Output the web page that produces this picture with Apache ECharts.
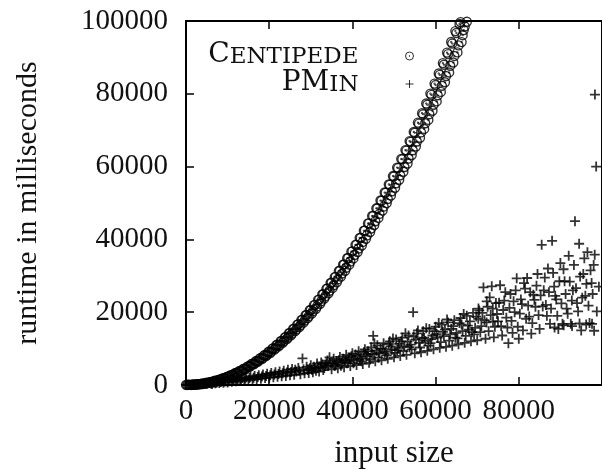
<!DOCTYPE html>
<html>
<head>
<meta charset="utf-8">
<script src="https://cdn.jsdelivr.net/npm/echarts@6/dist/echarts.min.js"></script>
<style>
  html, body { margin: 0; padding: 0; background: #fff; }
  #chart { width: 602px; height: 474px; }
</style>
</head>
<body>
<div id="chart"></div>
<script>
// Runtime measurements: [input size, runtime in ms]
const centipedePoints = [
  [0,40],[500,60],[1000,30],[1500,90],[2000,120],[2500,110],[3000,230],[3500,250],[4000,390],[4500,420],
  [5000,610],[5500,640],[6000,860],[6500,900],[7000,1150],[7500,1210],[8000,1490],[8500,1560],[9000,1880],[9500,1950],
  [10000,2310],[10500,2390],[11000,2780],[11500,2870],[12000,3320],[12500,3400],[13000,3880],[13500,3950],[14000,4480],[14500,4560],
  [15000,5150],[15500,5230],[16000,5860],[16500,5920],[17000,6600],[17500,6700],[18000,7400],[18500,7450],[19000,8240],[19500,8300],
  [20000,9150],[20500,9150],[21000,10080],[21500,10050],[22000,11060],[22500,11000],[23000,12100],[23500,12000],[24000,13200],[24500,13050],
  [25000,14300],[25500,14150],[26000,15500],[26500,15250],[27000,16700],[27500,16400],[28000,17950],[28500,17700],[29000,19250],[29500,18900],
  [30000,20600],[30500,20250],[31000,22000],[31500,21600],[32000,23450],[32500,23000],[33000,24950],[33500,24400],[34000,26500],[34500,25900],
  [35000,28100],[35500,27400],[36000,29700],[36500,29000],[37000,31400],[37500,30600],[38000,33100],[38500,32200],[39000,34900],[39500,33900],
  [40000,36700],[40500,35700],[41000,38500],[41500,37500],[42000,40400],[42500,39300],[43000,42400],[43500,41100],[44000,44400],[44500,43000],
  [45000,46400],[45500,45000],[46000,48500],[46500,47000],[47000,50600],[47500,49000],[48000,52800],[48500,51100],[49000,55000],[49500,53200],
  [50000,57300],[50500,55400],[51000,59600],[51500,57600],[52000,62000],[52500,59900],[53000,64400],[53500,62200],[54000,66800],[54500,64500],
  [55000,69300],[55500,66900],[56000,71800],[56500,69400],[57000,74400],[57500,71900],[58000,77000],[58500,74400],[59000,79700],[59500,77000],
  [60000,82400],[60500,79600],[61000,85200],[61500,82200],[62000,88000],[62500,84900],[63000,90900],[63500,87700],[64000,93800],[64500,90400],
  [65000,96700],[65500,93300],[66000,99700],[66500,96100],[67000,98500],[67500,99800],
  [250,20],[750,40],[1250,20],[1750,100],[2250,90],[2750,200],[3250,210],[3750,340],[4250,380],[4750,540],
  [5250,580],[5750,790],[6250,830],[6750,1080],[7250,1120],[7750,1420],[8250,1460],[8750,1800],[9250,1840],[9750,2230],
  [10250,2260],[10750,2700],[11250,2720],[11750,3220],[12250,3230],[12750,3780],[13250,3780],[13750,4390],[14250,4370],[14750,5050],
  [15250,5000],[15750,5760],[16250,5670],[16750,6510],[17250,6390],[17750,7310],[18250,7150],[18750,8150],[19250,7960],[19750,9050],
  [20250,8800],[20750,9990],[21250,9700],[21750,10980],[22250,10630],[22750,12010],[23250,11600],[23750,13090],[24250,12620],[24750,14210],
  [25250,13680],[25750,15380],[26250,14790],[26750,16600],[27250,15930],[27750,17860],[28250,17130],[28750,19170],[29250,18360],[29750,20530],
  [30250,19640],[30750,21930],[31250,20960],[31750,23380],[32250,22320],[32750,24880],[33250,23730],[33750,26420],[34250,25180],[34750,28010],
  [35250,26670],[35750,29640],[36250,28200],[36750,31320],[37250,29780],[37750,33050],[38250,31400],[38750,34820],[39250,33060],[39750,36640],
  [40250,34770],[40750,38510],[41250,36520],[41750,40420],[42250,38310],[42750,42380],[43250,40150],[43750,44390],[44250,42020],[44750,46440],
  [45250,43940],[45750,48540],[46250,45910],[46750,50690],[47250,47910],[47750,52880],[48250,49970],[48750,55120],[49250,52060],[49750,57400],
  [50250,54190],[50750,59730],[51250,56370],[51750,62110],[52250,58590],[52750,64530],[53250,60860],[53750,67000],[54250,63170],[54750,69520],
  [55250,65510],[55750,72080],[56250,67910],[56750,74690],[57250,70350],[57750,77350],[58250,72830],[58750,80050],[59250,75350],[59750,82800],
  [60250,77910],[60750,85590],[61250,80520],[61750,88430],[62250,83170],[62750,91320],[63250,85870],[63750,94250],[64250,88600],[64750,97230],
  [65250,91380],[65750,99200],[66250,94200],[66750,97500]
];

const pminPoints = [
  [0,30],[500,80],[1000,50],[1500,150],[2000,120],[2500,260],[3000,180],[3500,330],[4000,240],[4500,410],
  [5000,300],[5500,520],[6000,380],[6500,640],[7000,450],[7500,760],[8000,560],[8500,900],[9000,650],[9500,1050],
  [10000,720],[10500,1250],[11000,880],[11500,1450],[12000,1020],[12500,1700],[13000,1100],[13500,1900],[14000,1250],[14500,2100],
  [15000,1400],[15500,2300],[16000,1500],[16500,2450],[17000,1650],[17500,2700],[18000,1750],[18500,2900],[19000,1900],[19500,3100],
  [20000,2000],[20500,3300],[21000,2100],[21500,3500],[22000,2250],[22500,3700],[23000,2400],[23500,3900],[24000,2500],[24500,4200],
  [25000,2650],[25500,4400],[26000,2800],[26500,3700],[27000,4700],[27500,2950],[28000,7300],[28500,3200],[29000,5000],[29500,3300],
  [30000,5400],[30500,3500],[31000,4500],[31500,5900],[32000,3700],[32500,6200],[33000,4100],[33500,5300],[34000,6700],[34500,7600],
  [35000,4300],[35500,7200],[36000,5600],[36500,4600],[37000,7700],[37500,6200],[38000,4900],[38500,8300],[39000,6600],[39500,5200],
  [40000,8700],[40500,7000],[41000,5500],[41500,9300],[42000,7400],[42500,5800],[43000,9800],[43500,7900],[44000,6100],[44500,10300],
  [45000,13500],[45200,8400],[45500,6500],[46000,10900],[46500,8800],[47000,6800],[47500,11500],[48000,9200],[48500,7200],[49000,12000],
  [49500,9700],[50000,7600],[50500,12500],[51000,10200],[51500,8000],[52000,13000],[52500,10700],[53000,8300],[53500,13600],[54000,11100],
  [54600,20000],[55000,8700],[55500,14200],[56000,11600],[56500,9000],[57000,14800],[57500,12100],[58000,9400],[58500,15400],[59000,12600],
  [59500,9800],[60000,16000],[60500,13000],[61000,10200],[61500,16600],[62000,13400],[62500,10500],[63000,17200],[63500,13900],[64000,10800],
  [64500,17800],[65000,14300],[65500,11200],[66000,18400],[66500,14800],[67000,11600],[67500,19000],[68000,15200],[68500,12000],[69000,19800],
  [69500,15700],[70000,12300],[70500,20500],[71000,16200],[71500,26800],[72000,12700],[72500,21500],[73000,24100],[73500,27100],[74000,13100],
  [74500,22500],[75000,17500],[75500,27400],[76000,13600],[76500,23200],[77000,18500],[77500,11500],[78000,25000],[78500,14300],[79000,20000],
  [79500,29300],[80000,12700],[80500,23500],[81000,15000],[81500,26500],[82000,29400],[82500,18800],[83000,14100],[83500,24800],[84000,21500],
  [84500,30500],[85000,15400],[85500,38500],[86000,26000],[86500,22000],[87000,32000],[87500,16800],[88000,39600],[88500,27000],[89000,23500],
  [89500,15400],[90000,33500],[90500,16800],[91000,28500],[91500,21000],[92000,35500],[92500,16800],[93000,26000],[93500,45000],[94000,22500],
  [94500,38800],[95000,15000],[95500,30500],[96000,24500],[96500,36500],[97000,17000],[97500,28000],[98000,33000],[98300,79800],[98600,60000],
  [30250,4200],[31250,3900],[32250,5000],[33250,4700],[34250,5200],[35250,6000],[36250,6500],[37250,5300],[38250,6900],[39250,7500],
  [40250,6000],[41250,8000],[42250,6500],[43250,8500],[44250,7000],[45750,9400],[46250,7500],[47250,10000],[48250,8200],[49250,10600],
  [50250,8800],[51250,11300],[52250,9300],[53250,11900],[54250,9800],[55250,12500],[56250,10300],[57250,13000],[58250,10800],[59250,13600],
  [60250,14000],[61250,11800],[62250,15200],[63250,12200],[64250,16200],[65250,12800],[66250,16600],[67250,13500],[68250,17500],[69250,13900],
  [70250,18200],[70750,14500],[71250,19800],[72250,17200],[72750,14800],[73250,19200],[73750,21000],[74250,16000],[74750,19500],[75250,22600],
  [75750,16200],[76250,20600],[76750,25500],[77250,15800],[77750,21200],[78250,17600],[78750,23000],[79250,26000],[79750,16000],[80250,19600],
  [80750,22200],[81250,28000],[81750,18200],[82250,21800],[82750,25500],[83250,17000],[83750,23400],[84250,27300],[84750,19200],[85250,24600],
  [85750,21600],[86250,29500],[86750,19000],[87250,25500],[87750,21000],[88250,30800],[88750,24500],[89250,19000],[89750,28500],[90250,22400],
  [90750,31800],[91250,25000],[91750,19600],[92250,28400],[92750,23200],[93250,33000],[93750,26600],[94250,20200],[94750,29800],[95250,24000],
  [95750,34800],[96250,27800],[96750,21800],[97250,31500],[97750,25000],[98250,35800],[98750,20200],[99250,27000],
  [88600,15800],[90800,16400],[92800,16200],[94600,16900],[96200,16600],[98100,14900],[97600,16800],
  [5250,450],[6250,300],[7250,620],[8250,800],[9250,980],[10250,1000],[11250,1150],[12250,1350],[13250,1500],[14250,1750],
  [15250,1900],[16250,2000],[17250,2200],[18250,2350],[19250,2500],[20250,2700],[21250,2900],[22250,3000],[23250,3200],[24250,3400],
  [25250,3600],[26250,4200],[27250,3900],[28250,4300],[29250,4100],[29750,4600],[30750,5000],[31750,4700],[32750,5600],[33750,6000],
  [34750,5900],[35750,5200],[36750,6800],[37750,7200],[38750,6000],[39750,7900],[40750,8400],[41750,7000],[42750,9000],[43750,9300],
  [44750,8600],[45300,11500],[46750,9900],[47750,8700],[48750,11200],[49750,12800],[50750,9600],[51750,12000],[52750,14200],[53750,10400],
  [54750,13300],[55750,15000],[56750,12800],[57750,15600],[58750,11500],[59750,14800],[60750,17000],[61750,14600],[62750,18000],[63750,15400],
  [64750,13000],[65750,17000],[66750,19500],[67750,16300],[68750,14500],[69750,18800],[70300,21000],[71750,17800],[72300,23000],[73800,17500]
];

const xTicks = [0, 20000, 40000, 60000, 80000, 100000];
const yTicks = [0, 20000, 40000, 60000, 80000, 100000];

const SERIF = '"Liberation Serif", "DejaVu Serif", serif';
const LEGEND_FONT = '"DejaVu Serif", "Liberation Serif", serif';

// ring with a centre dot, and a plus sign
const ringDot = 'path://M5,0A5,5,0,1,1,5,10A5,5,0,1,1,5,0ZM5,4.55A0.45,0.45,0,1,1,5,5.45A0.45,0.45,0,1,1,5,4.55Z';
const plus = 'path://M0,5L10,5M5,0L5,10';

const chart = echarts.init(document.getElementById('chart'), null, { renderer: 'canvas' });

const axisLineStyle = { color: '#000', width: 2 };
const tickStyle = { color: '#000', width: 1.5 };

chart.setOption({
  animation: false,
  backgroundColor: '#fff',
  textStyle: { fontFamily: SERIF, color: '#111' },
  grid: {
    left: 186, right: -9, top: 21, bottom: 84.5,
    show: true, borderColor: '#000', borderWidth: 2, backgroundColor: 'transparent'
  },
  legend: {
    orient: 'vertical',
    align: 'right',
    right: 183,
    top: 36,
    itemWidth: 92,
    itemHeight: 8,
    itemGap: 0,
    itemStyle: { color: 'rgba(0,0,0,0)', borderColor: '#000', borderWidth: 1 },
    selectedMode: false,
    data: ['Centipede', 'PMin'],
    formatter: function (name) {
      if (name === 'Centipede') return '{big|C}{small|ENTIPEDE}';
      return '{big|PM}{small|IN}';
    },
    textStyle: {
      color: '#111',
      rich: {
        big: { fontFamily: LEGEND_FONT, fontSize: 28, lineHeight: 26, verticalAlign: 'bottom', color: '#111' },
        small: { fontFamily: LEGEND_FONT, fontSize: 23, lineHeight: 21, verticalAlign: 'bottom', color: '#111' }
      }
    }
  },
  xAxis: [{
    type: 'value',
    min: xTicks[0], max: xTicks[xTicks.length - 1], interval: xTicks[1] - xTicks[0],
    position: 'bottom',
    name: 'input size',
    nameLocation: 'middle',
    nameGap: 53,
    nameTextStyle: { fontFamily: SERIF, fontSize: 31, color: '#111' },
    splitLine: { show: false },
    axisLine: { show: true, lineStyle: axisLineStyle },
    axisTick: { show: true, inside: true, length: 8, lineStyle: tickStyle },
    axisLabel: {
      fontFamily: SERIF, fontSize: 29, color: '#111', margin: 12,
      showMaxLabel: false,
      formatter: function (v) { return v >= 100000 ? '' : String(v); }
    }
  }, {
    type: 'value',
    min: xTicks[0], max: xTicks[xTicks.length - 1], interval: xTicks[1] - xTicks[0],
    position: 'top',
    splitLine: { show: false },
    axisLine: { show: true, lineStyle: axisLineStyle },
    axisTick: { show: true, inside: true, length: 8, lineStyle: tickStyle },
    axisLabel: { show: false }
  }],
  yAxis: [{
    type: 'value',
    min: yTicks[0], max: yTicks[yTicks.length - 1], interval: yTicks[1] - yTicks[0],
    name: 'runtime in milliseconds',
    nameLocation: 'middle',
    nameGap: 143,
    nameTextStyle: { fontFamily: SERIF, fontSize: 30, color: '#111' },
    splitLine: { show: false },
    axisLine: { show: true, lineStyle: axisLineStyle },
    axisTick: { show: true, inside: true, length: 8, lineStyle: tickStyle },
    axisLabel: {
      fontFamily: SERIF, fontSize: 29, color: '#111', margin: 18,
      formatter: function (v) { return String(v); }
    }
  }],
  series: [{
    name: 'Centipede',
    type: 'scatter',
    data: centipedePoints,
    symbol: ringDot,
    symbolSize: 9,
    clip: true,
    itemStyle: { color: 'rgba(0,0,0,0)', borderColor: '#000', borderWidth: 1.4 },
    emphasis: { disabled: true }
  }, {
    name: 'PMin',
    type: 'scatter',
    data: pminPoints,
    symbol: plus,
    symbolSize: 10,
    clip: true,
    itemStyle: { color: 'rgba(0,0,0,0)', borderColor: '#000', borderWidth: 1.8 },
    emphasis: { disabled: true }
  }]
});
</script>
</body>
</html>
